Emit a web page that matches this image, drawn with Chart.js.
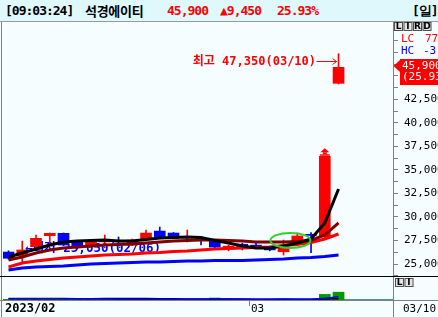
<!DOCTYPE html>
<html lang="ko">
<head>
<meta charset="utf-8">
<title>석경에이티 일봉</title>
<script src="https://cdn.jsdelivr.net/npm/chart.js@4.4.1/dist/chart.umd.min.js"></script>
<style>
  html, body { margin: 0; padding: 0; }
  body { width: 438px; height: 317px; overflow: hidden; position: relative; background: #f6fdfe; }
  #hdr { position: absolute; left: 0; top: 0; width: 438px; height: 21px; background: #def8fc; border-bottom: 1px solid #9a9a9a; }
  #hdr span { position: absolute; top: 2px; font: bold 13px "DejaVu Sans Mono", monospace; letter-spacing: -1px; line-height: 17px; white-space: nowrap; color: #000; }
  #hdr .kr { font-family: "Noto Sans CJK KR", sans-serif; font-size: 13px; letter-spacing: -0.3px; }
  #hdr .up { color: #ff0000; }
  canvas { position: absolute; left: 0; }
  #priceChart { top: 22px; }
  #volChart { top: 277px; }
</style>
</head>
<body>
<div id="hdr">
  <span id="hClock" style="left:5px"></span>
  <span id="hName" class="kr" style="left:85px"></span>
  <span id="hPrice" class="up" style="left:167px"></span>
  <span id="hChange" class="up" style="left:220px"></span>
  <span id="hPct" class="up" style="left:277px"></span>
  <span style="left:412px">[일]</span>
</div>
<canvas id="priceChart" width="438" height="255"></canvas>
<canvas id="volChart" width="438" height="40"></canvas>
<script>
// 종목 정보
const stockName = '석경에이티';
const clock = '09:03:24';
const year = '2023';

// 일봉 데이터 (02/03 ~ 03/10)
const dates  = ['02/03', '02/06', '02/07', '02/08', '02/09', '02/10', '02/13', '02/14', '02/15', '02/16', '02/17',
                '02/20', '02/21', '02/22', '02/23', '02/24', '02/27', '02/28', '03/02', '03/03', '03/06', '03/07',
                '03/08', '03/09', '03/10'];
const opens  = [26270, 25850, 26840, 28010, 28260, 27300, 27000, 27350, 27500, 27020, 27660, 28500, 28290,
                27800, 27700, 27550, 26600, 27100, 27000, 26800, 26300, 27340, 28150, 27870, 44200];
const highs  = [26400, 27440, 28080, 28300, 28300, 27500, 27600, 28080, 27870, 27650, 28610, 28930, 28350,
                28610, 27870, 27600, 27000, 27200, 27200, 26900, 27550, 28300, 28350, 36450, 47350];
const lows   = [25500, 25050, 26750, 27020, 26950, 26600, 26900, 27020, 27230, 26950, 27600, 27800, 27700,
                27340, 27020, 26700, 26400, 26500, 26600, 26400, 25950, 27250, 26200, 27800, 44130];
const closes = [25610, 26490, 27730, 28260, 27020, 26750, 27440, 27450, 27350, 27550, 28290, 27870, 27760,
                27900, 27600, 26800, 26900, 26700, 26900, 26500, 26700, 27980, 28040, 36450, 45900];

// 이동평균선
const ma5  = [25740, 26170, 26590, 27020, 27340, 27440, 27500, 27550, 27440, 27440, 27600, 27760, 27820,
              27870, 27820, 27500, 27230, 26910, 26700, 26700, 26910, 27230, 27660, 29360, 32970];
const ma10 = [25430, 25740, 26170, 26490, 26700, 26810, 26910, 27020, 27070, 27130, 27230, 27340, 27440,
              27500, 27550, 27550, 27500, 27440, 27340, 27340, 27340, 27390, 27500, 28080, 29360];
const ma20 = [24680, 25110, 25320, 25480, 25640, 25740, 25850, 25960, 26010, 26060, 26170, 26220, 26330,
              26380, 26490, 26590, 26650, 26700, 26750, 26810, 26970, 27070, 27290, 27660, 28190];
const ma60 = [24360, 24580, 24680, 24730, 24790, 24890, 25000, 25050, 25110, 25160, 25210, 25210, 25270,
              25320, 25320, 25370, 25370, 25370, 25430, 25480, 25530, 25640, 25690, 25800, 25960];

// 거래량
const volumes = [180000, 240000, 200000, 190000, 170000, 160000, 150000, 160000, 140000, 150000, 200000, 170000,
                 150000, 170000, 140000, 640000, 150000, 140000, 150000, 130000, 170000, 220000, 250000, 1820000, 2550000];
const volMa5  = [480000, 470000, 460000, 450000, 450000, 440000, 430000, 330000, 280000, 260000, 250000, 240000,
                 240000, 230000, 230000, 300000, 290000, 280000, 270000, 260000, 290000, 240000, 250000, 570000, 1030000];
const volMa20 = [430000, 430000, 430000, 440000, 440000, 440000, 440000, 450000, 450000, 450000, 450000, 420000,
                 390000, 360000, 340000, 330000, 310000, 290000, 280000, 270000, 260000, 260000, 270000, 330000, 440000];

// 가격축 라벨 / 눈금
const priceTicks = [25000, 27500, 30000, 32500, 35000, 37500, 40000, 42500];
const tickStep = 1250;

const RED = '#ff0000';
const BLUE = '#0000ff';
const GRAY = '#808080';
const MONO = '"DejaVu Sans Mono", "Noto Sans CJK KR", monospace';

const fmt = v => Math.round(v).toLocaleString('en-US');
const toPts = arr => arr.map((v, i) => ({ x: i, y: v }));
const candleColors = closes.map((c, i) => (c >= opens[i] ? RED : BLUE));

const xMin = -0.4, xMax = 27.96;
const yMin = 23725, yMax = 50717;

// 헤더 채우기
const llenarHeader = () => {
    const last = closes.length - 1;
    const diff = closes[last] - closes[last - 1];
    const pct = diff / closes[last - 1] * 100;
    document.getElementById('hClock').textContent = '[' + clock + ']';
    document.getElementById('hName').textContent = stockName;
    document.getElementById('hPrice').textContent = fmt(closes[last]);
    document.getElementById('hChange').textContent = '▲' + fmt(diff);
    document.getElementById('hPct').textContent = pct.toFixed(2) + '%';
};

const drawButtons = (ctx, labels, x0, y0) => {
    let bx = x0;
    labels.forEach(l => {
        ctx.fillStyle = '#e4e4e4';
        ctx.fillRect(bx, y0, 9, 9);
        ctx.strokeStyle = '#505050';
        ctx.lineWidth = 1;
        ctx.strokeRect(bx + 0.5, y0 + 0.5, 8, 8);
        ctx.fillStyle = '#000';
        ctx.font = 'bold 9px "DejaVu Sans", sans-serif';
        ctx.textAlign = 'center';
        ctx.textBaseline = 'middle';
        ctx.fillText(l, bx + 4.5, y0 + 5);
        bx += 9.5;
    });
};

// 가격 차트 장식
const pricePlugin = {
    id: 'priceDecor',
    beforeDatasetsDraw(chart) {
        const { ctx, scales: { x, y } } = chart;
        const lowVal = Math.min(...lows);
        const lowIdx = lows.indexOf(lowVal);
        ctx.save();
        ctx.font = 'bold 12.5px ' + MONO;
        ctx.fillStyle = BLUE;
        ctx.textBaseline = 'middle';
        ctx.fillText('←최저 ' + fmt(lowVal) + '(' + dates[lowIdx] + ')',
            x.getPixelForValue(lowIdx) + 3, y.getPixelForValue(lowVal) - 15);
        ctx.restore();
    },
    afterDatasetsDraw(chart) {
        const { ctx, scales: { x, y } } = chart;
        ctx.save();
        // 녹색 원
        const ex = (x.getPixelForValue(20) + x.getPixelForValue(21)) / 2;
        const ey = y.getPixelForValue(27500);
        ctx.strokeStyle = '#30d030';
        ctx.lineWidth = 2;
        ctx.beginPath();
        ctx.ellipse(ex, ey, 20, 7.5, 0, 0, Math.PI * 2);
        ctx.stroke();

        // 상한가 표시
        const px = x.getPixelForValue(23);
        const py = y.getPixelForValue(highs[23]);
        ctx.fillStyle = RED;
        ctx.beginPath();
        ctx.moveTo(px, py - 8);
        ctx.lineTo(px + 4.5, py - 4);
        ctx.lineTo(px - 4.5, py - 4);
        ctx.closePath();
        ctx.fill();
        ctx.fillRect(px - 2, py - 4, 4, 2);
        ctx.fillRect(px - 5, py - 2, 10, 1.5);

        // 최고가 라벨
        const hiVal = Math.max(...highs);
        const hiIdx = highs.indexOf(hiVal);
        const hx = x.getPixelForValue(hiIdx);
        const hy = Math.round(y.getPixelForValue(hiVal)) + 7.5;
        ctx.font = 'bold 12px ' + MONO;
        ctx.textAlign = 'right';
        ctx.textBaseline = 'middle';
        ctx.fillText('최고 ' + fmt(hiVal) + '(' + dates[hiIdx] + ')', hx - 22.5, hy);
        ctx.strokeStyle = RED;
        ctx.lineWidth = 1;
        ctx.beginPath();
        ctx.moveTo(hx - 22, hy);
        ctx.lineTo(hx - 2, hy);
        ctx.moveTo(hx - 6, hy - 3);
        ctx.lineTo(hx - 2, hy);
        ctx.lineTo(hx - 6, hy + 3);
        ctx.stroke();
        ctx.restore();
    },
    afterDraw(chart) {
        const { ctx, chartArea: a, scales: { y } } = chart;
        const W = chart.width;
        ctx.save();
        // 테두리
        ctx.strokeStyle = GRAY;
        ctx.lineWidth = 1;
        ctx.beginPath();
        ctx.moveTo(1.5, 0);
        ctx.lineTo(1.5, a.bottom);
        ctx.stroke();
        ctx.strokeStyle = '#000';
        ctx.beginPath();
        ctx.moveTo(0, a.bottom + 0.5);
        ctx.lineTo(W, a.bottom + 0.5);
        ctx.stroke();

        // LC / HC
        ctx.font = '11px ' + MONO;
        ctx.textAlign = 'left';
        ctx.textBaseline = 'middle';
        ctx.fillStyle = RED;
        ctx.fillText('LC', 401, 17);
        ctx.fillText('77', 425, 17);
        ctx.fillStyle = BLUE;
        ctx.fillText('HC', 401, 29);
        ctx.fillText('-3', 423, 29);

        // 현재가 박스
        const last = closes.length - 1;
        const cy = Math.round(y.getPixelForValue(closes[last]));
        const pct = (closes[last] - closes[last - 1]) / closes[last - 1] * 100;
        ctx.fillStyle = RED;
        ctx.fillRect(400, cy - 8, W - 400, 26);
        ctx.beginPath();
        ctx.moveTo(393.5, cy - 1);
        ctx.lineTo(400, cy - 7);
        ctx.lineTo(400, cy + 5);
        ctx.closePath();
        ctx.fill();
        ctx.fillStyle = '#fff';
        ctx.fillText(fmt(closes[last]), 402, cy - 1);
        ctx.fillText('(' + pct.toFixed(2) + '%)', 402, cy + 10);

        drawButtons(ctx, ['L', 'I', 'R', 'D'], 394, 0);
        ctx.restore();
    }
};

// 거래량 차트 장식
const volPlugin = {
    id: 'volDecor',
    beforeDatasetsDraw(chart) {
        const { ctx, chartArea: a } = chart;
        ctx.save();
        ctx.strokeStyle = '#4f9a8c';
        ctx.lineWidth = 1;
        ctx.beginPath();
        ctx.moveTo(a.left, a.bottom - 0.5);
        ctx.lineTo(a.right, a.bottom - 0.5);
        ctx.stroke();
        ctx.restore();
    },
    afterDraw(chart) {
        const { ctx, chartArea: a, scales: { x } } = chart;
        const W = chart.width, H = chart.height;
        ctx.save();
        ctx.strokeStyle = GRAY;
        ctx.lineWidth = 1;
        ctx.beginPath();
        ctx.moveTo(0, a.bottom + 0.5);
        ctx.lineTo(W, a.bottom + 0.5);
        ctx.moveTo(393.5, 0);
        ctx.lineTo(393.5, H);
        ctx.moveTo(1.5, 0);
        ctx.lineTo(1.5, H);
        ctx.stroke();

        // 날짜 라벨
        const month0 = dates[0].slice(0, 2);
        const mIdx = dates.findIndex(d => d.slice(0, 2) !== month0);
        const tx = Math.round(x.getPixelForValue(mIdx - 0.5)) + 0.5;
        ctx.beginPath();
        ctx.moveTo(tx, a.bottom);
        ctx.lineTo(tx, a.bottom + 6);
        ctx.stroke();

        const ty = a.bottom + 9;
        ctx.fillStyle = '#000';
        ctx.textAlign = 'left';
        ctx.textBaseline = 'middle';
        ctx.font = 'bold 12px ' + MONO;
        ctx.fillText(year + '/' + month0, 5, ty);
        ctx.font = '11px ' + MONO;
        ctx.fillText(dates[mIdx].slice(0, 2), tx + 1.5, ty);
        ctx.fillText(dates[dates.length - 1], 403, ty);

        drawButtons(ctx, ['L', 'I'], 395, 1);
        ctx.restore();
    }
};

// 가격 차트
const inicializarPrecio = () => {
    new Chart(document.getElementById('priceChart'), {
        type: 'bar',
        data: {
            datasets: [
                { type: 'line', data: toPts(ma5), borderColor: '#000000', borderWidth: 3, pointRadius: 0, order: 0 },
                { type: 'line', data: toPts(ma10), borderColor: '#800000', borderWidth: 3, pointRadius: 0, order: 1 },
                { type: 'line', data: toPts(ma20), borderColor: RED, borderWidth: 3, pointRadius: 0, order: 2 },
                { type: 'line', data: toPts(ma60), borderColor: BLUE, borderWidth: 3, pointRadius: 0, order: 3 },
                {
                    data: opens.map((o, i) => ({ x: i, y: [o, closes[i]] })),
                    backgroundColor: candleColors, barThickness: 11, minBarLength: 1, grouped: false, order: 4
                },
                {
                    data: lows.map((l, i) => ({ x: i, y: [l, highs[i]] })),
                    backgroundColor: candleColors, barThickness: 1, grouped: false, order: 5
                }
            ]
        },
        options: {
            responsive: false,
            animation: false,
            devicePixelRatio: 1,
            layout: { padding: { left: 3, right: 0, top: 0, bottom: 1 } },
            plugins: { legend: { display: false }, tooltip: { enabled: false } },
            scales: {
                x: { type: 'linear', display: false, min: xMin, max: xMax, offset: false },
                y: {
                    position: 'right',
                    min: yMin,
                    max: yMax,
                    beginAtZero: false,
                    border: { color: GRAY },
                    grid: { drawOnChartArea: false, tickLength: 5, color: GRAY },
                    ticks: {
                        autoSkip: false,
                        padding: 6,
                        color: '#000',
                        font: { family: 'DejaVu Sans Mono', size: 11 },
                        callback: v => (priceTicks.some(t => Math.abs(t - v) < 1) ? fmt(v) : '')
                    },
                    // 1,250 단위 눈금
                    afterBuildTicks: s => {
                        const t = [];
                        for (let v = Math.ceil(yMin / tickStep) * tickStep; v <= yMax; v += tickStep) t.push({ value: v });
                        s.ticks = t;
                    },
                    afterFit: s => { s.width = 45; s.paddingTop = 0; s.paddingBottom = 0; }
                }
            }
        },
        plugins: [pricePlugin]
    });
};

// 거래량 차트
const inicializarVolumen = () => {
    new Chart(document.getElementById('volChart'), {
        type: 'bar',
        data: {
            datasets: [
                { type: 'line', data: toPts(volMa5), borderColor: BLUE, borderWidth: 1.5, pointRadius: 0, order: 0 },
                { type: 'line', data: toPts(volMa20), borderColor: '#000000', borderWidth: 1.5, pointRadius: 0, order: 1 },
                { data: toPts(volumes), backgroundColor: '#009a00', barThickness: 11, grouped: false, order: 2 }
            ]
        },
        options: {
            responsive: false,
            animation: false,
            devicePixelRatio: 1,
            layout: { padding: { left: 3, right: 45, top: 0, bottom: 17 } },
            plugins: { legend: { display: false }, tooltip: { enabled: false } },
            scales: {
                x: { type: 'linear', display: false, min: xMin, max: xMax, offset: false },
                y: { display: false, min: 0, max: 7500000 }
            }
        },
        plugins: [volPlugin]
    });
};

const inicializarPagina = () => {
    llenarHeader();
    inicializarPrecio();
    inicializarVolumen();
};

if (document.readyState === 'loading') {
    document.addEventListener('DOMContentLoaded', inicializarPagina);
} else {
    inicializarPagina();
}
</script>
</body>
</html>
